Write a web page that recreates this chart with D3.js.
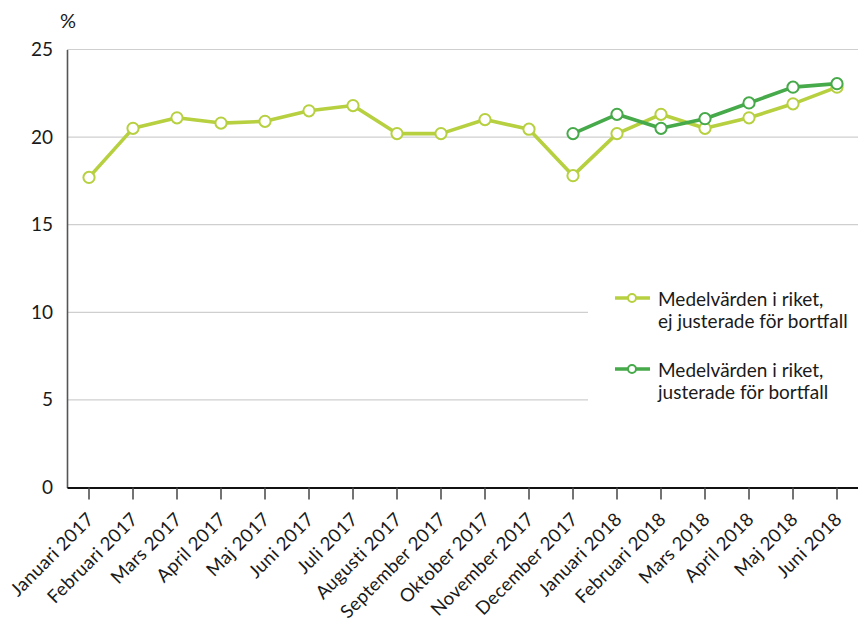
<!DOCTYPE html>
<html>
<head>
<meta charset="utf-8">
<script src="https://cdn.jsdelivr.net/npm/d3@7"></script>
<style>
  html, body { margin: 0; padding: 0; background: #fff; }
  svg { display: block; font-family: "Lato", "Open Sans", sans-serif; }
</style>
</head>
<body>
<svg id="chart" width="858" height="630"></svg>
<script>
// Months shown on the x axis
const months = [
  "Januari 2017", "Februari 2017", "Mars 2017", "April 2017", "Maj 2017",
  "Juni 2017", "Juli 2017", "Augusti 2017", "September 2017", "Oktober 2017",
  "November 2017", "December 2017", "Januari 2018", "Februari 2018",
  "Mars 2018", "April 2018", "Maj 2018", "Juni 2018"
];

// National averages, not adjusted for non-response (%)
const unadjusted = [
  17.7, 20.5, 21.1, 20.8, 20.9, 21.5, 21.8, 20.2, 20.2, 21.0,
  20.45, 17.8, 20.2, 21.3, 20.5, 21.1, 21.9, 22.85
];

// National averages, adjusted for non-response (%), from December 2017
const adjustedMonths = [
  "December 2017", "Januari 2018", "Februari 2018", "Mars 2018",
  "April 2018", "Maj 2018", "Juni 2018"
];
const adjusted = [20.2, 21.3, 20.5, 21.05, 21.95, 22.85, 23.05];

const yTicks = [0, 5, 10, 15, 20, 25];

const seriesNames = [
  ["Medelvärden i riket,", "ej justerade för bortfall"],
  ["Medelvärden i riket,", "justerade för bortfall"]
];
const colors = ["#b6d040", "#46a94a"];

const svg = d3.select("#chart");
const plotLeft = 67, plotRight = 859, plotTop = 49.5, plotBottom = 487.5;

const x = d3.scaleBand().domain(months).range([plotLeft, plotRight]).paddingInner(0).paddingOuter(0);
const cx = d => x(d) + x.bandwidth() / 2;
const y = d3.scaleLinear().domain([0, 25]).range([plotBottom, plotTop]);

// Horizontal gridlines
svg.append("g")
  .selectAll("line")
  .data(yTicks.filter(t => t > 0))
  .join("line")
  .attr("x1", plotLeft).attr("x2", 858)
  .attr("y1", d => y(d)).attr("y2", d => y(d))
  .attr("stroke", "#cfcfcf").attr("stroke-width", 1.2);

// Y axis
const yAxis = svg.append("g")
  .attr("transform", `translate(${plotLeft},0)`)
  .call(d3.axisLeft(y).tickValues(yTicks).tickSize(0).tickPadding(14));
yAxis.select(".domain").attr("stroke", "#555").attr("stroke-width", 1.6);
yAxis.selectAll("text")
  .attr("font-size", 19).attr("fill", "#1a1a1a")
  .attr("font-family", "Lato, sans-serif");

svg.append("text")
  .attr("x", 68).attr("y", 28)
  .attr("text-anchor", "middle")
  .attr("font-size", 20).attr("fill", "#1a1a1a")
  .text("%");

// Legend background hides gridlines behind it
svg.append("rect")
  .attr("x", 588).attr("y", 275).attr("width", 270).attr("height", 140)
  .attr("fill", "#fff");

// X axis
const xAxis = svg.append("g")
  .attr("transform", `translate(0,${plotBottom})`)
  .call(d3.axisBottom(x).tickSizeInner(12).tickSizeOuter(0).tickPadding(6));
xAxis.select(".domain").attr("stroke", "#111").attr("stroke-width", 2);
xAxis.selectAll(".tick line").attr("stroke", "#444").attr("stroke-width", 1.5);
xAxis.selectAll("text")
  .attr("font-size", 18.5).attr("fill", "#1a1a1a")
  .attr("font-family", "Lato, sans-serif")
  .attr("letter-spacing", 0.3)
  .attr("text-anchor", "end")
  .attr("x", 0).attr("y", 0).attr("dy", 0)
  .attr("transform", "translate(6,33) rotate(-45)");

// Series lines and markers
const line = d3.line().x(d => cx(d.m)).y(d => y(d.v));
const series = [
  months.map((m, i) => ({ m, v: unadjusted[i] })),
  adjustedMonths.map((m, i) => ({ m, v: adjusted[i] }))
];

series.forEach((data, i) => {
  const g = svg.append("g");
  g.append("path")
    .datum(data)
    .attr("d", line)
    .attr("fill", "none")
    .attr("stroke", colors[i])
    .attr("stroke-width", 3.6)
    .attr("stroke-linejoin", "round");
  g.selectAll("circle")
    .data(data)
    .join("circle")
    .attr("cx", d => cx(d.m)).attr("cy", d => y(d.v))
    .attr("r", 5.6)
    .attr("fill", "#fff")
    .attr("stroke", colors[i]).attr("stroke-width", 2);
});

// Legend
const legend = svg.append("g");
seriesNames.forEach((lines, i) => {
  const ly = 298 + i * 71;
  legend.append("line")
    .attr("x1", 615).attr("x2", 650).attr("y1", ly).attr("y2", ly)
    .attr("stroke", colors[i]).attr("stroke-width", 3.6);
  legend.append("circle")
    .attr("cx", 632).attr("cy", ly).attr("r", 4)
    .attr("fill", "#fff").attr("stroke", colors[i]).attr("stroke-width", 2);
  const t = legend.append("text")
    .attr("x", 658).attr("y", ly + 8)
    .attr("font-size", 19).attr("fill", "#1a1a1a");
  lines.forEach((s, j) => {
    t.append("tspan").attr("x", 658).attr("dy", j === 0 ? 0 : 22).text(s);
  });
});
</script>
</body>
</html>
